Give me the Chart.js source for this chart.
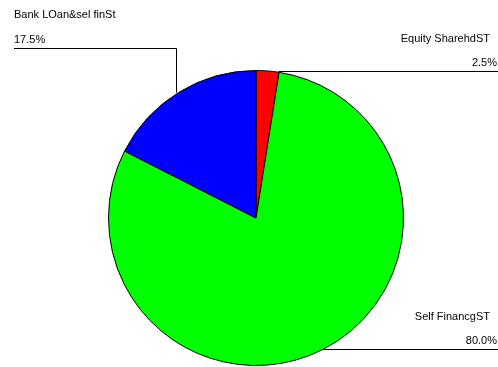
<!DOCTYPE html>
<html>
<head>
<meta charset="utf-8">
<script src="https://cdn.jsdelivr.net/npm/chart.js@4/dist/chart.umd.min.js"></script>
<style>
  html, body { margin: 0; padding: 0; background: #fff; }
  #wrap { width: 498px; height: 367px; }
</style>
</head>
<body>
<div id="wrap"><canvas id="pieChart" width="498" height="367"></canvas></div>
<script>
// data, clockwise from 12 o'clock
var categories = ['Equity SharehdST', 'Self FinancgST', 'Bank LOan&sel finSt'];
var shares = [2.5, 80.0, 17.5];
var percentLabels = ['2.5%', '80.0%', '17.5%'];
var sliceColors = ['#ff0000', '#00ff00', '#0000ff'];

var FONT = '11px "Liberation Sans", Arial, sans-serif';

// leader lines + two-line labels drawn next to each slice
var calloutPlugin = {
  id: 'callouts',
  afterDatasetsDraw: function (chart) {
    var c = chart.ctx;
    var meta = chart.getDatasetMeta(0);
    var W = chart.width;
    c.save();
    c.strokeStyle = '#000';
    c.lineWidth = 1;
    c.fillStyle = '#000';
    c.font = FONT;
    c.textBaseline = 'middle';
    meta.data.forEach(function (arc, i) {
      var p = arc.getProps(['x', 'y', 'startAngle', 'endAngle', 'outerRadius'], true);
      var mid = (p.startAngle + p.endAngle) / 2;
      var px = p.x + Math.cos(mid) * p.outerRadius;
      var py = Math.round(p.y + Math.sin(mid) * p.outerRadius) + 0.5;
      c.beginPath();
      if (i === 2) {
        // goes up, then out to the left
        var ly = 48.5;
        c.moveTo(Math.round(px) - 2.5, py);
        c.lineTo(Math.round(px) - 2.5, ly);
        c.lineTo(14, ly);
        c.stroke();
        c.textAlign = 'left';
        c.fillText(categories[i], 14, 15);
        c.fillText(percentLabels[i], 14, 40);
      } else {
        var sx = i === 0 ? px + 11 : px;
        c.moveTo(sx, py);
        c.lineTo(W, py);
        c.stroke();
        c.textAlign = 'right';
        c.fillText(categories[i], W - 8, py - 33);
        c.fillText(percentLabels[i], W - 1, py - 9);
      }
    });
    c.restore();
  }
};

new Chart(document.getElementById('pieChart').getContext('2d'), {
  type: 'pie',
  data: {
    labels: categories,
    datasets: [{
      data: shares,
      backgroundColor: sliceColors,
      borderColor: '#000',
      borderWidth: 1
    }]
  },
  options: {
    responsive: false,
    animation: false,
    layout: { padding: { top: 70, bottom: 1, left: 108, right: 94 } },
    plugins: {
      legend: { display: false },
      tooltip: { enabled: false },
      title: { display: false }
    }
  },
  plugins: [calloutPlugin]
});
</script>
</body>
</html>
